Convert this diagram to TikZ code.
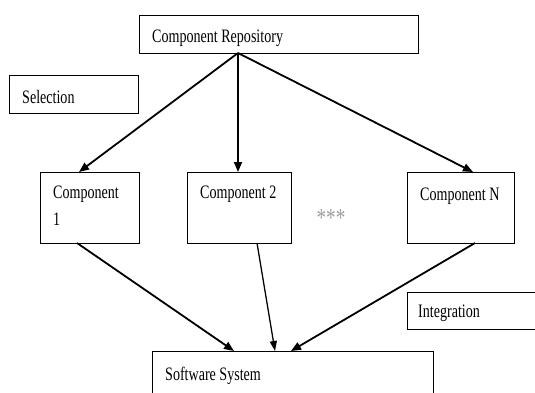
\documentclass[tikz,border=0pt]{standalone}
\usepackage{fontspec}
\setmainfont{Liberation Serif}[FakeStretch=0.74]
\usetikzlibrary{arrows.meta}
\begin{document}
\begin{tikzpicture}[x=1pt,y=-1pt,
  box/.style={draw=black,line width=0.9pt,rectangle,inner sep=0pt,anchor=north west},
  lbl/.style={inner sep=0pt,anchor=base west,font=\fontsize{19}{22}\selectfont},
  arr/.style={line width=1.8pt,-{Triangle[length=10pt,width=8pt]}},
  thinarr/.style={line width=1.3pt,-{Triangle[length=10pt,width=7pt]}}]
\useasboundingbox (0,0) rectangle (535,393);
\clip (0,0) rectangle (535,393);
% boxes
\node[box,minimum width=279pt,minimum height=38pt] (repo) at (139,15) {};
\node[box,minimum width=129pt,minimum height=38pt] (sel) at (9,75) {};
\node[box,minimum width=99pt,minimum height=71pt] (c1) at (40,172) {};
\node[box,minimum width=104pt,minimum height=71pt] (c2) at (187,172) {};
\node[box,minimum width=107pt,minimum height=71pt] (cn) at (407,172) {};
\node[box,minimum width=140pt,minimum height=37pt] (integ) at (407,292) {};
\node[box,minimum width=281pt,minimum height=60pt] (sys) at (152,351) {};
% texts
\node[lbl] (trepo) at (152,43) {Component Repository};
\node[lbl] (tsel) at (22,103) {Selection};
\node[lbl] (tc1a) at (53,198) {Component};
\node[lbl] (tc1b) at (53,225) {1};
\node[lbl] (tc2) at (200,198) {Component 2};
\node[lbl] (tcn) at (420,200) {Component N};
\node[lbl] (tint) at (418,317) {Integration};
\node[lbl] (tsys) at (165,380) {Software System};
\node[inner sep=0pt,text=gray!75,font=\fontsize{26}{28}\selectfont] (dots) at (331,218) {***};
% connector ends
\coordinate (r0) at (238,53);
\coordinate (c1top) at (79,172);
\coordinate (c2top) at (238,172);
\coordinate (cntop) at (473,172);
\coordinate (c1bot) at (77,243);
\coordinate (c2bot) at (257,243);
\coordinate (cnbot) at (475,243);
\coordinate (s1) at (234,351);
\coordinate (s2) at (275,351);
\coordinate (s3) at (291,351);
% connectors
\draw[arr] (r0) -- (c1top);
\draw[arr] (r0) -- (c2top);
\draw[arr] (r0) -- (cntop);
\draw[arr] (c1bot) -- (s1);
\draw[thinarr] (c2bot) -- (s2);
\draw[arr] (cnbot) -- (s3);
\end{tikzpicture}
\end{document}
